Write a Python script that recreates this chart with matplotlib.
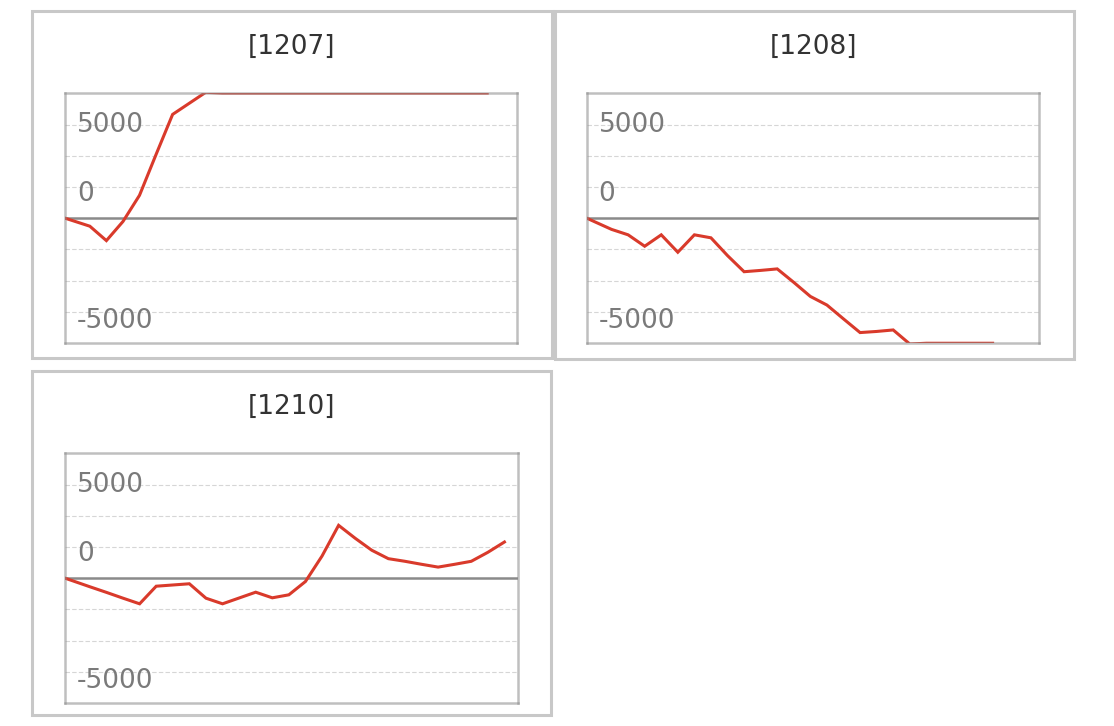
import numpy as np
import matplotlib.pyplot as plt
from matplotlib.patches import Rectangle

plt.rcParams['font.family'] = ['DejaVu Sans']

# panel titles
titles = ['[1207]', '[1208]', '[1210]']

# cumulative values per panel (first point is the start, the rest are daily)
vals_1207 = [0, -430, -1200, -180, 1220, 3400, 5540, 6130, 6720,
             6680, 6680, 6680, 6680, 6680, 6680, 6680, 6680, 6680,
             6680, 6680, 6680, 6680, 6680, 6680, 6680, 6680]
vals_1208 = [0, -600, -890, -1500, -890, -1820, -890, -1050, -2000,
             -2860, -2790, -2710, -3430, -4180, -4640, -5380, -6110,
             -6050, -5970, -6720, -6680, -6680, -6680, -6680, -6680]
vals_1210 = [0, -460, -760, -1070, -1370, -430, -365, -300, -1070,
             -1370, -1060, -750, -1050, -890, -180, 1180, 2820, 2130,
             1490, 1040, 900, 740, 590, 740, 900, 1380, 1930]
series = [vals_1207, vals_1208, vals_1210]

# y axis: labels and where their baselines sit
grid_step = 5000 / 3
y_lim = 4 * grid_step
tick_texts = ['5000', '0', '-5000']
tick_base = [4610, 890, -5840]
x_max = 27.3

W, H = 1114, 726
fig = plt.figure(figsize=(W / 100, H / 100), dpi=100)
fig.patch.set_facecolor('white')

def fx(px):
    return px / W

def fy(py):
    return 1 - py / H

# panel frames: left, top, right, bottom (pixels)
frames = [(31.5, 10.5, 551.5, 358), (554.5, 10.5, 1073.5, 358.5), (31.5, 370.7, 551, 715.3)]
axes_px = [(65, 93.3, 517, 343), (586.7, 93.3, 1039, 343), (65, 453.3, 517.7, 703)]

for i in range(3):
    l, t, r, b = frames[i]
    fig.patches.append(Rectangle((fx(l), fy(b)), fx(r - l), (b - t) / H, transform=fig.transFigure,
                                 fill=False, edgecolor='#c8c8c8', linewidth=2.2))
    fig.text(fx((l + r) / 2), fy(t + 36), titles[i], ha='center', va='center',
             fontsize=19, color='#333333')

    al, at, ar, ab = axes_px[i]
    ax = fig.add_axes([fx(al), fy(ab), fx(ar - al), (ab - at) / H])
    vals = series[i]
    x = np.concatenate([[0], np.arange(len(vals) - 1) + 1.5])

    for k in range(-3, 4):
        if k != 0:
            ax.axhline(k * grid_step, color='#d6d6d6', lw=0.8, ls=(0, (4, 2)), zorder=1)
    ax.axhline(0, color='#8a8a8a', lw=1.8, zorder=1.5)
    ax.plot(x, vals, color='#d93a2b', lw=2.2, zorder=2, solid_joinstyle='miter')

    for txt, yb in zip(tick_texts, tick_base):
        ax.text(12 / (ar - al), yb, txt, transform=ax.get_yaxis_transform(),
                ha='left', va='baseline', fontsize=19, color='#7a7a7a', zorder=3)

    ax.set_xlim(0, x_max)
    ax.set_ylim(-y_lim, y_lim)
    ax.set_xticks([])
    ax.set_yticks([])
    for s in ax.spines.values():
        s.set_color((0.55, 0.55, 0.55, 0.55))
        s.set_linewidth(1.8)

fig.savefig('out.png', dpi=100, facecolor='white')
